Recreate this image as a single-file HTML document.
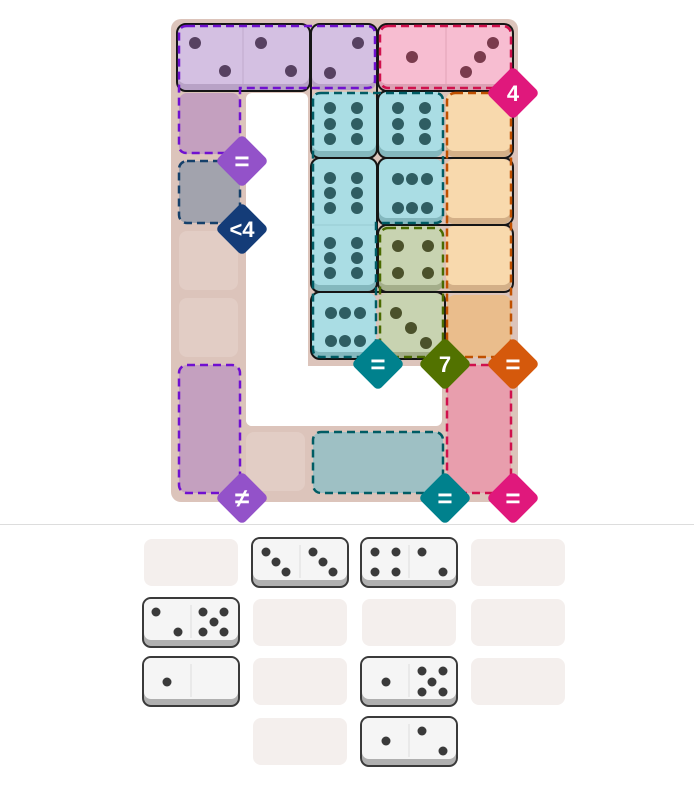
<!DOCTYPE html>
<html><head><meta charset="utf-8"><style>
html,body{margin:0;padding:0;background:#fff;}
svg{display:block;}
text{font-family:"Liberation Sans",sans-serif;font-weight:bold;fill:#fff;text-anchor:middle;}
</style></head><body>
<svg width="694" height="797" viewBox="0 0 694 797" xmlns="http://www.w3.org/2000/svg">
<!-- board background -->
<rect x="171" y="19" width="347" height="483" rx="10" fill="#dcc4bb"/>
<rect x="246" y="93" width="62" height="333" rx="6" fill="#fff"/>
<rect x="246" y="366" width="196" height="60" rx="6" fill="#fff"/>
<!-- empty cells -->
<g fill="#e2cdc5">
<rect x="179" y="231" width="59" height="59" rx="8"/>
<rect x="179" y="298" width="59" height="59" rx="8"/>
<rect x="246" y="432" width="59" height="59" rx="8"/>
</g>
<!-- tinted empty cells -->
<rect x="179" y="93" width="61" height="61" rx="8" fill="#c4a0bf"/>
<rect x="179" y="161" width="61" height="62" rx="8" fill="#a2a3ad"/>
<rect x="179" y="365" width="61" height="128" rx="8" fill="#c4a0bf"/>
<rect x="447" y="365" width="64" height="128" rx="8" fill="#e89ead"/>
<rect x="313" y="432" width="130" height="61" rx="8" fill="#9ec0c4"/>
<rect x="447" y="295" width="64" height="62" rx="8" fill="#eabd8c"/>
<!-- dice -->
<g>
<rect x="178" y="25" width="131" height="65" rx="8" fill="#b8a2c6"/><rect x="178" y="25" width="131" height="59" rx="8" fill="#d4c0e2"/>
<line x1="243" y1="26" x2="243" y2="84" stroke="#c0aacc" stroke-width="1"/>
<rect x="312" y="25" width="64" height="65" rx="8" fill="#b8a2c6"/><rect x="312" y="25" width="64" height="59" rx="8" fill="#d4c0e2"/>
<rect x="379" y="25" width="132" height="65" rx="8" fill="#dca0b4"/><rect x="379" y="25" width="132" height="59" rx="8" fill="#f7bdd1"/>
<line x1="446" y1="26" x2="446" y2="84" stroke="#e0a4b8" stroke-width="1"/>
<!-- teal -->
<rect x="312" y="92" width="64" height="65" rx="8" fill="#84b8be"/><rect x="312" y="92" width="64" height="59" rx="8" fill="#aadde4"/>
<rect x="379" y="92" width="64" height="65" rx="8" fill="#84b8be"/><rect x="379" y="92" width="64" height="59" rx="8" fill="#aadde4"/>
<rect x="312" y="159" width="64" height="132" rx="8" fill="#84b8be"/><rect x="312" y="159" width="64" height="126" rx="8" fill="#aadde4"/>
<line x1="313" y1="225" x2="375" y2="225" stroke="#98ccd2"/>
<rect x="379" y="159" width="64" height="65" rx="8" fill="#84b8be"/><rect x="379" y="159" width="64" height="59" rx="8" fill="#aadde4"/>
<rect x="312" y="293" width="64" height="65" rx="8" fill="#84b8be"/><rect x="312" y="293" width="64" height="59" rx="8" fill="#aadde4"/>
<!-- orange -->
<rect x="446" y="92" width="65" height="65" rx="8" fill="#d4b088"/><rect x="446" y="92" width="65" height="59" rx="8" fill="#f8d9ad"/>
<rect x="446" y="159" width="65" height="65" rx="8" fill="#d4b088"/><rect x="446" y="159" width="65" height="59" rx="8" fill="#f8d9ad"/>
<rect x="446" y="226" width="65" height="65" rx="8" fill="#d4b088"/><rect x="446" y="226" width="65" height="59" rx="8" fill="#f8d9ad"/>
<!-- green -->
<rect x="379" y="226" width="64" height="65" rx="8" fill="#a4ae8a"/><rect x="379" y="226" width="64" height="59" rx="8" fill="#c8d3b1"/>
<rect x="379" y="293" width="64" height="65" rx="8" fill="#a4ae8a"/><rect x="379" y="293" width="64" height="59" rx="8" fill="#c8d3b1"/>
</g>
<!-- pips -->
<g fill="#574161">
<circle cx="195" cy="43" r="6"/><circle cx="225" cy="71" r="6"/>
<circle cx="261" cy="43" r="6"/><circle cx="291" cy="71" r="6"/>
<circle cx="358" cy="43" r="6"/><circle cx="330" cy="73" r="6"/>
</g>
<g fill="#7a3b4d">
<circle cx="412" cy="57" r="6"/>
<circle cx="493" cy="43" r="6"/><circle cx="480" cy="57" r="6"/><circle cx="466" cy="72" r="6"/>
</g>
<g fill="#2f5d62">
<circle cx="330" cy="108" r="6"/><circle cx="357" cy="108" r="6"/><circle cx="330" cy="124" r="6"/><circle cx="357" cy="124" r="6"/><circle cx="330" cy="139" r="6"/><circle cx="357" cy="139" r="6"/>
<circle cx="398" cy="108" r="6"/><circle cx="425" cy="108" r="6"/><circle cx="398" cy="124" r="6"/><circle cx="425" cy="124" r="6"/><circle cx="398" cy="139" r="6"/><circle cx="425" cy="139" r="6"/>
<circle cx="330" cy="178" r="6"/><circle cx="357" cy="178" r="6"/><circle cx="330" cy="193" r="6"/><circle cx="357" cy="193" r="6"/><circle cx="330" cy="208" r="6"/><circle cx="357" cy="208" r="6"/>
<circle cx="398" cy="179" r="6"/><circle cx="412" cy="179" r="6"/><circle cx="427" cy="179" r="6"/><circle cx="398" cy="208" r="6"/><circle cx="412" cy="208" r="6"/><circle cx="427" cy="208" r="6"/>
<circle cx="330" cy="243" r="6"/><circle cx="357" cy="243" r="6"/><circle cx="330" cy="258" r="6"/><circle cx="357" cy="258" r="6"/><circle cx="330" cy="273" r="6"/><circle cx="357" cy="273" r="6"/>
<circle cx="331" cy="313" r="6"/><circle cx="345" cy="313" r="6"/><circle cx="360" cy="313" r="6"/><circle cx="331" cy="341" r="6"/><circle cx="345" cy="341" r="6"/><circle cx="360" cy="341" r="6"/>
</g>
<g fill="#4b512b">
<circle cx="398" cy="246" r="6"/><circle cx="428" cy="246" r="6"/><circle cx="398" cy="273" r="6"/><circle cx="428" cy="273" r="6"/>
<circle cx="396" cy="313" r="6"/><circle cx="411" cy="328" r="6"/><circle cx="426" cy="343" r="6"/>
</g>
<!-- black domino borders -->
<g fill="none" stroke="#151515" stroke-width="2">
<rect x="177" y="24" width="133" height="67" rx="9"/>
<rect x="311" y="24" width="66" height="134" rx="9"/>
<rect x="378" y="24" width="135" height="67" rx="9"/>
<rect x="378" y="91" width="135" height="67" rx="9"/>
<rect x="311" y="158" width="66" height="134" rx="9"/>
<rect x="378" y="158" width="135" height="67" rx="9"/>
<rect x="378" y="225" width="135" height="67" rx="9"/>
<rect x="311" y="292" width="134" height="67" rx="9"/>
</g>
<!-- dashed region outlines -->
<g fill="none" stroke-width="2.5" stroke-dasharray="8 5">
<path d="M187 26 H367 Q375 26 375 34 V80 Q375 88 367 88 H240 V145 Q240 153 232 153 H187 Q179 153 179 145 V34 Q179 26 187 26 Z" stroke="#7010d0"/>
<rect x="179" y="365" width="61" height="128" rx="8" stroke="#7010d0"/>
<rect x="179" y="161" width="61" height="62" rx="8" stroke="#15406a"/>
<rect x="380" y="26" width="131" height="62" rx="8" stroke="#d0104c"/>
<rect x="447" y="365" width="64" height="128" rx="8" stroke="#d0104c"/>
<path d="M321 93 H435 Q443 93 443 101 V215 Q443 223 435 223 H376 V349 Q376 357 368 357 H321 Q313 357 313 349 V101 Q313 93 321 93 Z" stroke="#005c64"/>
<rect x="313" y="432" width="130" height="61" rx="8" stroke="#005c64"/>
<rect x="380" y="228" width="63" height="129" rx="8" stroke="#4a6a00"/>
<rect x="447" y="93" width="64" height="264" rx="8" stroke="#c05000"/>
</g>
<!-- badges -->
<g>
<g transform="translate(242,161)"><rect x="-19" y="-19" width="38" height="38" rx="5" fill="#9352c9" transform="rotate(45)"/><text y="9" font-size="26">=</text></g>
<g transform="translate(242,229)"><rect x="-19" y="-19" width="38" height="38" rx="5" fill="#143c78" transform="rotate(45)"/><text y="8" font-size="22">&lt;4</text></g>
<g transform="translate(513,93)"><rect x="-19" y="-19" width="38" height="38" rx="5" fill="#e0187c" transform="rotate(45)"/><text y="8" font-size="22">4</text></g>
<g transform="translate(378,364)"><rect x="-19" y="-19" width="38" height="38" rx="5" fill="#00818d" transform="rotate(45)"/><text y="9" font-size="26">=</text></g>
<g transform="translate(445,364)"><rect x="-19" y="-19" width="38" height="38" rx="5" fill="#527200" transform="rotate(45)"/><text y="8" font-size="22">7</text></g>
<g transform="translate(513,364)"><rect x="-19" y="-19" width="38" height="38" rx="5" fill="#d5590c" transform="rotate(45)"/><text y="9" font-size="26">=</text></g>
<g transform="translate(242,498)"><rect x="-19" y="-19" width="38" height="38" rx="5" fill="#9352c9" transform="rotate(45)"/><text y="9" font-size="26">≠</text></g>
<g transform="translate(445,498)"><rect x="-19" y="-19" width="38" height="38" rx="5" fill="#00818d" transform="rotate(45)"/><text y="9" font-size="26">=</text></g>
<g transform="translate(513,498)"><rect x="-19" y="-19" width="38" height="38" rx="5" fill="#e0187c" transform="rotate(45)"/><text y="9" font-size="26">=</text></g>
</g>
<!-- separator -->
<line x1="0" y1="524.5" x2="694" y2="524.5" stroke="#dddddd" stroke-width="1"/>
<!-- tray empty slots -->
<g fill="#f4efed">
<rect x="144" y="539" width="94" height="47" rx="8"/>
<rect x="471" y="539" width="94" height="47" rx="8"/>
<rect x="253" y="599" width="94" height="47" rx="8"/>
<rect x="362" y="599" width="94" height="47" rx="8"/>
<rect x="471" y="599" width="94" height="47" rx="8"/>
<rect x="253" y="658" width="94" height="47" rx="8"/>
<rect x="471" y="658" width="94" height="47" rx="8"/>
<rect x="253" y="718" width="94" height="47" rx="8"/>
</g>
<!-- tray dominoes -->
<g>
<g transform="translate(252,538)"><rect x="0" y="0" width="96" height="49" rx="8" fill="#b0b0b0" stroke="#3a3a3a" stroke-width="2"/><rect x="1" y="1" width="94" height="41" rx="7" fill="#f5f5f5"/><line x1="48" y1="7" x2="48" y2="40" stroke="#ddd"/></g>
<g transform="translate(361,538)"><rect x="0" y="0" width="96" height="49" rx="8" fill="#b0b0b0" stroke="#3a3a3a" stroke-width="2"/><rect x="1" y="1" width="94" height="41" rx="7" fill="#f5f5f5"/><line x1="48" y1="7" x2="48" y2="40" stroke="#ddd"/></g>
<g transform="translate(143,598)"><rect x="0" y="0" width="96" height="49" rx="8" fill="#b0b0b0" stroke="#3a3a3a" stroke-width="2"/><rect x="1" y="1" width="94" height="41" rx="7" fill="#f5f5f5"/><line x1="48" y1="7" x2="48" y2="40" stroke="#ddd"/></g>
<g transform="translate(143,657)"><rect x="0" y="0" width="96" height="49" rx="8" fill="#b0b0b0" stroke="#3a3a3a" stroke-width="2"/><rect x="1" y="1" width="94" height="41" rx="7" fill="#f5f5f5"/><line x1="48" y1="7" x2="48" y2="40" stroke="#ddd"/></g>
<g transform="translate(361,657)"><rect x="0" y="0" width="96" height="49" rx="8" fill="#b0b0b0" stroke="#3a3a3a" stroke-width="2"/><rect x="1" y="1" width="94" height="41" rx="7" fill="#f5f5f5"/><line x1="48" y1="7" x2="48" y2="40" stroke="#ddd"/></g>
<g transform="translate(361,717)"><rect x="0" y="0" width="96" height="49" rx="8" fill="#b0b0b0" stroke="#3a3a3a" stroke-width="2"/><rect x="1" y="1" width="94" height="41" rx="7" fill="#f5f5f5"/><line x1="48" y1="7" x2="48" y2="40" stroke="#ddd"/></g>
</g>
<g fill="#3a3a3a">
<circle cx="266" cy="552" r="4.5"/><circle cx="276" cy="562" r="4.5"/><circle cx="286" cy="572" r="4.5"/>
<circle cx="313" cy="552" r="4.5"/><circle cx="323" cy="562" r="4.5"/><circle cx="333" cy="572" r="4.5"/>
<circle cx="375" cy="552" r="4.5"/><circle cx="396" cy="552" r="4.5"/><circle cx="375" cy="572" r="4.5"/><circle cx="396" cy="572" r="4.5"/>
<circle cx="422" cy="552" r="4.5"/><circle cx="443" cy="572" r="4.5"/>
<circle cx="156" cy="612" r="4.5"/><circle cx="178" cy="632" r="4.5"/>
<circle cx="203" cy="612" r="4.5"/><circle cx="224" cy="612" r="4.5"/><circle cx="214" cy="622" r="4.5"/><circle cx="203" cy="632" r="4.5"/><circle cx="224" cy="632" r="4.5"/>
<circle cx="167" cy="682" r="4.5"/>
<circle cx="386" cy="682" r="4.5"/>
<circle cx="422" cy="671" r="4.5"/><circle cx="443" cy="671" r="4.5"/><circle cx="432" cy="682" r="4.5"/><circle cx="422" cy="692" r="4.5"/><circle cx="443" cy="692" r="4.5"/>
<circle cx="386" cy="741" r="4.5"/>
<circle cx="422" cy="731" r="4.5"/><circle cx="443" cy="751" r="4.5"/>
</g>
</svg>
</body></html>
